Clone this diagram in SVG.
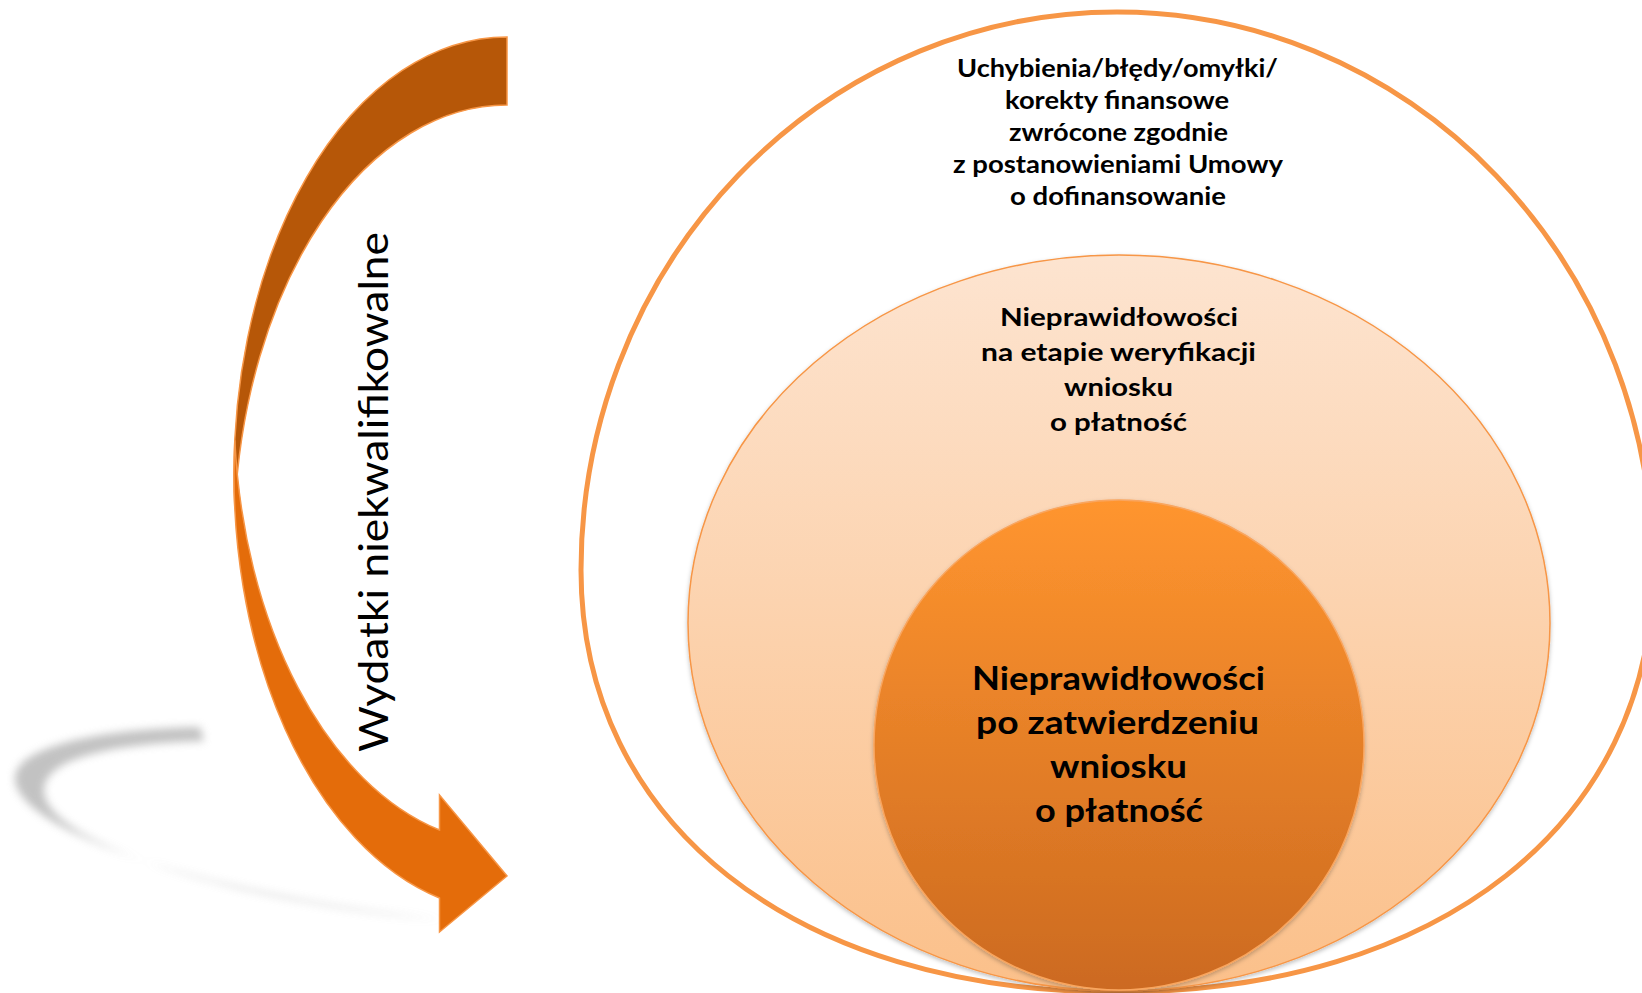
<svg xmlns="http://www.w3.org/2000/svg" width="1642" height="993" viewBox="0 0 1642 993">
  <defs>
    <linearGradient id="gMid" x1="0" y1="0" x2="0" y2="1">
      <stop offset="0" stop-color="#FDE4D0"/>
      <stop offset="1" stop-color="#FBC08A"/>
    </linearGradient>
    <linearGradient id="gIn" x1="0" y1="0" x2="0" y2="1">
      <stop offset="0" stop-color="#FF952F"/>
      <stop offset="1" stop-color="#CC6A20"/>
    </linearGradient>
    <filter id="blur" x="-20%" y="-50%" width="140%" height="200%">
      <feGaussianBlur stdDeviation="4"/>
    </filter>
    <filter id="shadow" x="-10%" y="-10%" width="120%" height="120%">
      <feDropShadow dx="0" dy="2" stdDeviation="2" flood-color="#000" flood-opacity="0.25"/>
    </filter>
  </defs>
  <style>
    .t { font-family: Lato, "Liberation Sans", sans-serif; font-weight: bold; fill: #000; text-anchor: middle; }
    .t1 { font-size: 25px; }
    .t3 { font-size: 32px; }
    .side { font-family: Lato, "Liberation Sans", sans-serif; font-size: 41px; fill: #000; }
    .arrowDark { fill: #B65708; stroke: #F79646; stroke-width: 1.5; stroke-linejoin: miter; }
    .arrowLight { fill: #E46C0A; stroke: #F79646; stroke-width: 1.5; stroke-linejoin: miter; }
  </style>
  <rect width="1642" height="993" fill="#FFFFFF"/>

  <g id="shadow-arc">
    <path d="M 200 727 C 95 729, 12 748, 15 780 C 20 832, 210 896, 445 920 C 230 902, 48 842, 44 792 C 42 760, 105 744, 204 741 Z" fill="#9A9A9A" opacity="0.6" filter="url(#blur)"/>
  </g>

  <g id="node-outer">
    <path d="M 1117 12 A 536 558 0 0 0 581 570 C 581 823, 795 992, 1117 992 C 1439 992, 1653 823, 1653 570 A 536 558 0 0 0 1117 12 Z" fill="#FFFFFF" stroke="#F79646" stroke-width="5"/>
    <text class="t t1" x="1117.5" y="77" textLength="321" lengthAdjust="spacingAndGlyphs">Uchybienia/błędy/omyłki/</text>
    <text class="t t1" x="1117" y="109" textLength="224" lengthAdjust="spacingAndGlyphs">korekty finansowe</text>
    <text class="t t1" x="1118.5" y="141" textLength="219" lengthAdjust="spacingAndGlyphs">zwrócone zgodnie</text>
    <text class="t t1" x="1118" y="173" textLength="330" lengthAdjust="spacingAndGlyphs">z postanowieniami Umowy</text>
    <text class="t t1" x="1118" y="205" textLength="216" lengthAdjust="spacingAndGlyphs">o dofinansowanie</text>
  </g>

  <g id="node-middle">
    <ellipse cx="1119" cy="623" rx="431" ry="368" fill="url(#gMid)" stroke="#F79646" stroke-width="1.5" filter="url(#shadow)"/>
    <text class="t t1" x="1119" y="326" textLength="238" lengthAdjust="spacingAndGlyphs">Nieprawidłowości</text>
    <text class="t t1" x="1118.5" y="361" textLength="275" lengthAdjust="spacingAndGlyphs">na etapie weryfikacji</text>
    <text class="t t1" x="1118.5" y="396" textLength="109" lengthAdjust="spacingAndGlyphs">wniosku</text>
    <text class="t t1" x="1118.5" y="431" textLength="137" lengthAdjust="spacingAndGlyphs">o płatność</text>
  </g>

  <g id="node-inner">
    <ellipse cx="1119" cy="745" rx="245" ry="245" fill="url(#gIn)" stroke="#F9A55E" stroke-width="1.5" filter="url(#shadow)"/>
    <text class="t t3" x="1118.5" y="690" textLength="293" lengthAdjust="spacingAndGlyphs">Nieprawidłowości</text>
    <text class="t t3" x="1117.5" y="734" textLength="283" lengthAdjust="spacingAndGlyphs">po zatwierdzeniu</text>
    <text class="t t3" x="1118.5" y="778" textLength="137" lengthAdjust="spacingAndGlyphs">wniosku</text>
    <text class="t t3" x="1119" y="822" textLength="168" lengthAdjust="spacingAndGlyphs">o płatność</text>
  </g>

  <g id="connectors">
    <path class="arrowDark" d="M 507 37 A 273 437.3 0 0 0 234.8 508.3 A 273 437.3 0 0 1 507 105 Z"/>
    <path class="arrowLight" d="M 234.8 440.3 A 273 437.3 0 0 0 439.5 898 L 439.5 932 L 507 876 L 439.5 795 L 439.5 830 A 273 437.3 0 0 1 234.8 440.3 Z"/>
  </g>

  <g id="label-wydatki">
    <text class="side" transform="translate(388 752) rotate(-90)" x="0" y="0" textLength="520" lengthAdjust="spacingAndGlyphs">Wydatki niekwalifikowalne</text>
  </g>
</svg>
